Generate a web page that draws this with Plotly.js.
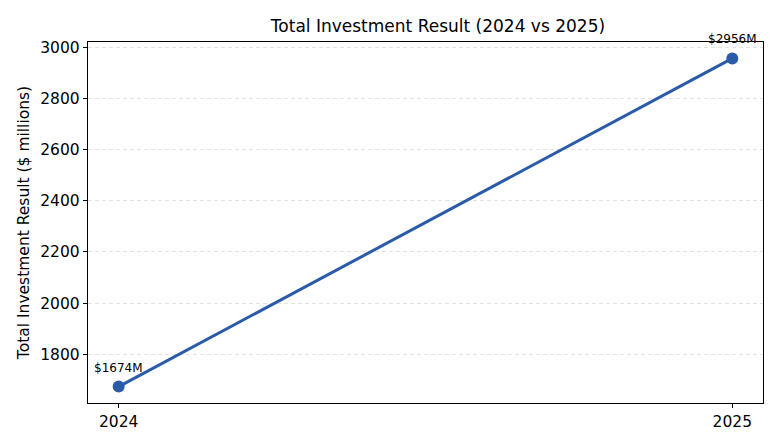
<!DOCTYPE html>
<html>
<head>
<meta charset="utf-8">
<script src="https://cdn.plot.ly/plotly-3.0.1.min.js"></script>
<style>html,body{margin:0;padding:0;background:#fff;}#chart{width:780px;height:446px;}</style>
</head>
<body>
<div id="chart"></div>
<script>
const years = [2024, 2025];
const tickLabels = ['2024', '2025'];
const values = [1674, 2956];
const pointLabels = ['$1674M', '$2956M'];

const lineColor = '#2a5ba8';
const font = 'DejaVu Sans, sans-serif';

const trace = {
  x: years,
  y: values,
  type: 'scatter',
  mode: 'lines+markers',
  line: {color: lineColor, width: 3},
  marker: {color: lineColor, size: 12},
  hoverinfo: 'none'
};

const annotations = years.map((yr, i) => ({
  x: yr, y: values[i], xref: 'x', yref: 'y',
  text: pointLabels[i], showarrow: false,
  yshift: 19, font: {family: font, size: 12, color: '#000'}
}));

const layout = {
  width: 780, height: 446,
  margin: {l: 88, r: 17, t: 42, b: 43},
  paper_bgcolor: '#fff', plot_bgcolor: '#fff',
  showlegend: false,
  title: {text: 'Total Investment Result (2024 vs 2025)', x: 0.5615, xanchor: 'center', y: 0.942, yanchor: 'middle',
          font: {family: font, size: 17, color: '#000'}},
  xaxis: {
    range: [2023.95, 2025.05], tickvals: years, ticktext: tickLabels,
    showgrid: false, zeroline: false, showline: true, mirror: true, linecolor: '#000', linewidth: 1.2,
    ticks: 'outside', ticklen: 4, tickwidth: 1, tickcolor: '#000',
    tickfont: {family: font, size: 15.5, color: '#000'}
  },
  yaxis: {
    range: [1609.9, 3020.1], dtick: 200, tick0: 0,
    showgrid: true, gridcolor: '#e2e2e2', griddash: '4px,3px', gridwidth: 1,
    zeroline: false, showline: true, mirror: true, linecolor: '#000', linewidth: 1.2,
    ticks: 'outside', ticklen: 4, tickwidth: 1, tickcolor: '#000',
    tickfont: {family: font, size: 15.5, color: '#000'},
    title: {text: 'Total Investment Result ($ millions)', standoff: 6, font: {family: font, size: 15.5, color: '#000'}}
  },
  annotations: annotations
};

Plotly.newPlot('chart', [trace], layout, {displayModeBar: false, staticPlot: true});
</script>
</body>
</html>
